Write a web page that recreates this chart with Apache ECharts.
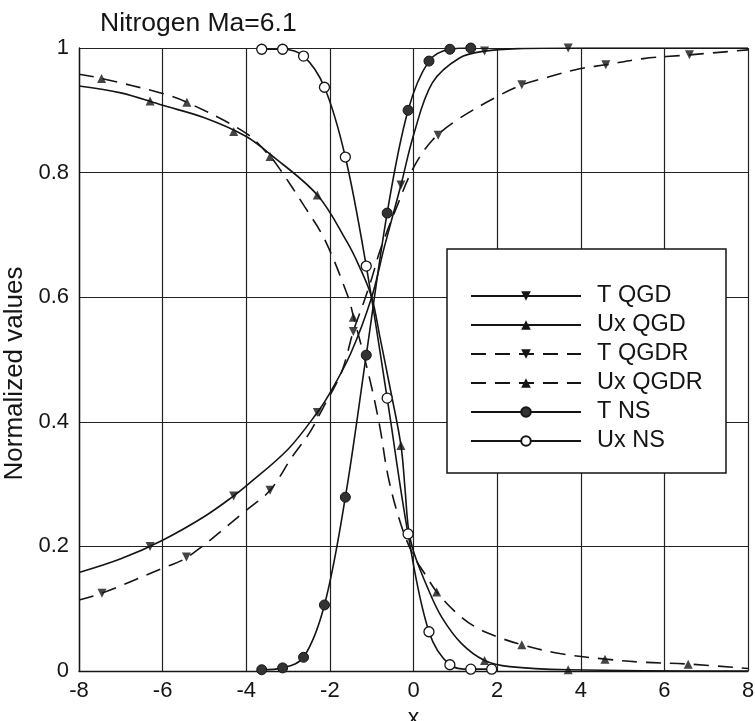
<!DOCTYPE html>
<html>
<head>
<meta charset="utf-8">
<script src="https://cdn.jsdelivr.net/npm/echarts@6/dist/echarts.min.js"></script>
<style>
  html, body { margin: 0; padding: 0; background: #fff; }
  #chart { width: 755px; height: 721px; }
</style>
</head>
<body>
<div id="chart"></div>
<script>
// values
const seriesNames = ['T QGD', 'Ux QGD', 'T QGDR', 'Ux QGDR', 'T NS', 'Ux NS'];

const tQgdLine = [[-8, 0.158], [-7, 0.18], [-6, 0.21], [-5, 0.248], [-4.3, 0.281], [-4, 0.297], [-3, 0.356],
  [-2.3, 0.415], [-2, 0.446], [-1.5, 0.51], [-1, 0.6], [-0.7, 0.68], [-0.3, 0.78], [0, 0.86], [0.45, 0.944],
  [1.1, 0.984], [1.7, 0.995], [2.5, 0.999], [4, 1], [8, 1]];
const tQgdMarks = [[-6.3, 0.2], [-4.3, 0.281], [-2.3, 0.415], [-0.3, 0.78], [1.7, 0.995], [3.7, 1.0]];

const uxQgdLine = [[-8, 0.939], [-7, 0.928], [-6, 0.908], [-5, 0.888], [-4, 0.858], [-3.4, 0.828], [-2.3, 0.764],
  [-1.6, 0.69], [-1.3, 0.65], [-1, 0.6], [-0.8, 0.535], [-0.55, 0.451], [-0.3, 0.362], [-0.2, 0.29],
  [-0.12, 0.228], [0, 0.192], [0.36, 0.13], [0.67, 0.087], [1.15, 0.044], [1.7, 0.017], [2.3, 0.007],
  [3.7, 0.002], [8, 0]];
const uxQgdMarks = [[-6.3, 0.915], [-4.3, 0.866], [-2.3, 0.764], [-0.3, 0.362], [1.7, 0.017], [3.7, 0.002]];

const tQgdrLine = [[-8, 0.114], [-7.45, 0.125], [-6, 0.165], [-5.4, 0.183], [-4, 0.258], [-3.43, 0.29],
  [-2.9, 0.344], [-2.5, 0.381], [-2.15, 0.424], [-1.72, 0.48], [-1.44, 0.545], [-1.2, 0.59], [-1, 0.63],
  [-0.8, 0.675], [-0.4, 0.745], [0, 0.808], [0.45, 0.852], [1.03, 0.884], [2, 0.922], [2.6, 0.941],
  [3.2, 0.953], [4, 0.967], [4.6, 0.973], [5.5, 0.983], [6.6, 0.989], [8, 0.997]];
const tQgdrMarks = [[-7.45, 0.125], [-5.43, 0.183], [-3.43, 0.29], [-1.44, 0.545], [0.59, 0.86], [2.59, 0.941],
  [4.6, 0.973], [6.6, 0.989]];

const uxQgdrLine = [[-8, 0.958], [-7.45, 0.951], [-6, 0.927], [-5.42, 0.913], [-4, 0.863], [-3.43, 0.826],
  [-3.19, 0.805], [-2.6, 0.745], [-2.12, 0.692], [-1.56, 0.6], [-1.44, 0.57], [-1.24, 0.52], [-1, 0.455],
  [-0.8, 0.39], [-0.6, 0.31], [-0.3, 0.235], [0, 0.185], [0.28, 0.155], [0.555, 0.127], [1, 0.095],
  [1.47, 0.071], [2, 0.055], [2.6, 0.042], [3.5, 0.028], [4.6, 0.019], [5.5, 0.014], [6.6, 0.011], [8, 0.004]];
const uxQgdrMarks = [[-7.46, 0.951], [-5.42, 0.913], [-3.43, 0.826], [-1.44, 0.568], [0.555, 0.127],
  [2.59, 0.042], [4.58, 0.019], [6.57, 0.011]];

const tNs = [[-3.63, 0.002], [-3.13, 0.005], [-2.63, 0.022], [-2.13, 0.106], [-1.63, 0.279], [-1.13, 0.507],
  [-0.63, 0.735], [-0.13, 0.9], [0.37, 0.979], [0.87, 0.998], [1.37, 1.0]];
const uxNs = [[-3.63, 0.998], [-3.13, 0.998], [-2.63, 0.987], [-2.13, 0.937], [-1.63, 0.825], [-1.13, 0.65],
  [-0.63, 0.438], [-0.13, 0.22], [0.37, 0.063], [0.87, 0.01], [1.37, 0.003], [1.87, 0.003]];

const ink = '#151515';
const dash = [15, 9];
const downTri = 'path://M0,0L10,0L5,9Z';
const fontFamily = 'Liberation Sans, Arial, sans-serif';

function curve(name, data, symbol, dashed) {
  return {
    name,
    type: 'line',
    data,
    smooth: 0.35,
    showSymbol: false,
    symbol,
    symbolSize: 9,
    lineStyle: { color: ink, width: 1.6, type: dashed ? dash : 'solid' },
    itemStyle: { color: ink },
    z: 3,
  };
}

function marks(name, data, symbol) {
  return {
    name,
    type: 'scatter',
    data,
    symbol,
    symbolSize: 9,
    itemStyle: { color: ink },
    z: 4,
  };
}

function nsCurve(name, data, open) {
  return {
    name,
    type: 'line',
    data,
    smooth: 0.35,
    symbol: 'circle',
    symbolSize: 10,
    showAllSymbol: true,
    lineStyle: { color: ink, width: 1.6 },
    itemStyle: open
      ? { color: '#fff', borderColor: ink, borderWidth: 1.3 }
      : { color: '#333', borderColor: ink, borderWidth: 1 },
    z: 5,
  };
}

const chart = echarts.init(document.getElementById('chart'));

chart.setOption({
  backgroundColor: '#fff',
  animation: false,
  title: {
    text: 'Nitrogen Ma=6.1',
    left: 95,
    top: 5,
    textStyle: { color: ink, fontSize: 26.5, fontWeight: 'normal', fontFamily },
  },
  grid: { left: 79, right: 7, top: 48, bottom: 50, containLabel: false, outerBoundsMode: 'none' },
  xAxis: {
    type: 'value',
    min: -8,
    max: 8,
    interval: 2,
    name: 'x',
    nameLocation: 'middle',
    nameGap: 31,
    nameTextStyle: { color: ink, fontSize: 23, fontFamily },
    axisLine: { show: true, onZero: false, lineStyle: { color: ink, width: 1.4 } },
    axisTick: { show: false },
    axisLabel: { color: ink, fontSize: 22, fontFamily, margin: 9 },
    splitLine: { show: true, lineStyle: { color: '#222', width: 1.2 } },
  },
  yAxis: {
    type: 'value',
    min: 0,
    max: 1,
    interval: 0.2,
    name: 'Normalized values',
    nameLocation: 'middle',
    nameGap: 48,
    nameTextStyle: { color: ink, fontSize: 26, fontFamily, padding: [0, 28, 0, 0] },
    axisLine: { show: true, onZero: false, lineStyle: { color: ink, width: 1.4 } },
    axisTick: { show: false },
    axisLabel: {
      color: ink,
      fontSize: 22,
      fontFamily,
      margin: 10,
      formatter: (v) => (v === 0 || v === 1 ? String(v) : v.toFixed(1)),
    },
    splitLine: { show: true, lineStyle: { color: '#222', width: 1.2 } },
  },
  graphic: [
    {
      type: 'rect',
      z: 6,
      shape: { x: 447, y: 249, width: 279, height: 224 },
      style: { fill: '#fff', stroke: ink, lineWidth: 1.5 },
    },
  ],
  legend: {
    data: seriesNames,
    orient: 'vertical',
    left: 465,
    top: 279,
    z: 10,
    itemWidth: 110,
    itemHeight: 12,
    itemGap: 5,
    textStyle: { color: ink, fontSize: 23.5, fontFamily, padding: [0, 0, 0, 11] },
  },
  series: [
    curve('T QGD', tQgdLine, downTri, false),
    curve('Ux QGD', uxQgdLine, 'triangle', false),
    curve('T QGDR', tQgdrLine, downTri, true),
    curve('Ux QGDR', uxQgdrLine, 'triangle', true),
    nsCurve('T NS', tNs, false),
    nsCurve('Ux NS', uxNs, true),
    marks('T QGD', tQgdMarks, downTri),
    marks('Ux QGD', uxQgdMarks, 'triangle'),
    marks('T QGDR', tQgdrMarks, downTri),
    marks('Ux QGDR', uxQgdrMarks, 'triangle'),
  ],
});
</script>
</body>
</html>
